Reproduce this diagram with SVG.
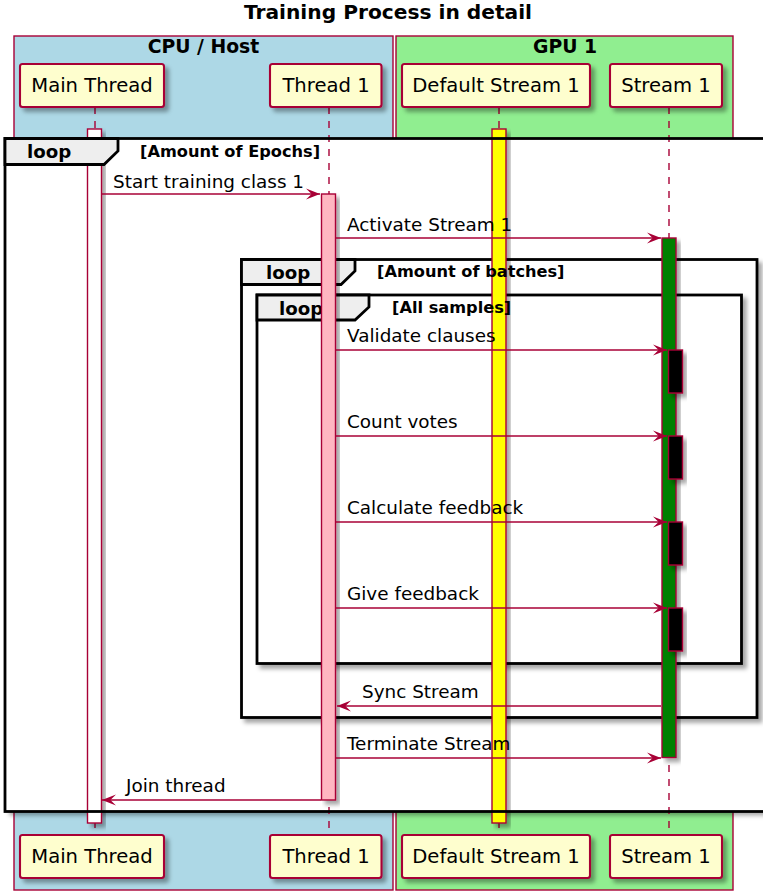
<svg xmlns="http://www.w3.org/2000/svg" width="763" height="892" viewBox="0 0 763 892">
<defs>
<filter id="sh" x="-20%" y="-20%" width="150%" height="150%">
<feGaussianBlur in="SourceAlpha" stdDeviation="2"/>
<feOffset dx="4" dy="4" result="b"/>
<feFlood flood-color="#000" flood-opacity="0.35"/>
<feComposite in2="b" operator="in"/>
<feMerge><feMergeNode/><feMergeNode in="SourceGraphic"/></feMerge>
</filter>
<marker id="ah" markerUnits="userSpaceOnUse" viewBox="-15 -7 16 14" refX="0" refY="0" markerWidth="16" markerHeight="14" orient="auto">
<path d="M0,0 L-14,-5.6 L-8.4,0 L-14,5.6 Z" fill="#A80036"/>
</marker>
<style>
.t{font-family:"DejaVu Sans",sans-serif;fill:#000}
.pt{font-size:19.6px;text-anchor:middle}
.mt{font-size:18.4px}
.bt{font-size:18.8px;font-weight:bold;text-anchor:middle}
.lt{font-size:18.2px;font-weight:bold}
.ct{font-size:16.2px;font-weight:bold}
.part{fill:#FEFECE;stroke:#A80036;stroke-width:2.1}
.life{stroke:#A80036;stroke-width:1.4;stroke-dasharray:7,7}
.act{stroke:#A80036;stroke-width:1.4}
.msg{stroke:#A80036;stroke-width:1.4;fill:none;marker-end:url(#ah)}
.frame{fill:#fff;stroke:#000;stroke-width:2.8}
.tab{fill:#EEEEEE;stroke:#000;stroke-width:2.8}
</style>
</defs>
<rect width="763" height="892" fill="#fff"/>
<text class="t" x="388" y="19" font-size="20.2" font-weight="bold" text-anchor="middle">Training Process in detail</text>

<g id="box-cpu">
<rect x="14" y="36" width="379" height="854" fill="#ADD8E6" stroke="#A80036" stroke-width="1.4"/>
<text class="t bt" x="203.5" y="53">CPU / Host</text>
</g>
<g id="box-gpu">
<rect x="396" y="36" width="337" height="854" fill="#90EE90" stroke="#A80036" stroke-width="1.4"/>
<text class="t bt" x="565" y="53">GPU 1</text>
</g>

<rect x="5" y="138.5" width="770" height="673" fill="#fff" filter="url(#sh)"/>

<g id="loop-batches">
<rect class="frame" x="241.5" y="259.5" width="515.5" height="458" filter="url(#sh)"/>
<path class="tab" d="M241.5,259.5 H355 V271 L341,284.5 H241.5 Z"/>
<text class="t lt" x="266" y="279">loop</text>
</g>
<g id="loop-samples">
<rect class="frame" x="257" y="295" width="484.5" height="368.5" filter="url(#sh)"/>
<path class="tab" d="M257,295 H369 V307 L355,320 H257 Z"/>
<text class="t lt" x="279" y="315">loop</text>
</g>

<g id="lifelines">
<line class="life" x1="95" y1="107" x2="95" y2="835"/>
<line class="life" x1="329" y1="107" x2="329" y2="835"/>
<line class="life" x1="499" y1="107" x2="499" y2="835"/>
<line class="life" x1="669" y1="107" x2="669" y2="835"/>
</g>

<g id="activations">
<rect class="act" x="87.5" y="129" width="14" height="694" fill="#fff" filter="url(#sh)"/>
<rect class="act" x="492" y="129" width="14" height="694" fill="#FFFF00" filter="url(#sh)"/>
<rect class="act" x="321.5" y="194" width="14" height="606" fill="#FFB6C1" filter="url(#sh)"/>
<rect class="act" x="662" y="238" width="14" height="519.5" fill="#008000" filter="url(#sh)"/>
<rect class="act" x="668.5" y="350" width="14" height="43" fill="#000" filter="url(#sh)"/>
<rect class="act" x="668.5" y="436" width="14" height="43" fill="#000" filter="url(#sh)"/>
<rect class="act" x="668.5" y="522" width="14" height="43" fill="#000" filter="url(#sh)"/>
<rect class="act" x="668.5" y="608" width="14" height="43" fill="#000" filter="url(#sh)"/>
</g>

<g id="loop-epochs">
<rect x="5" y="138.5" width="770" height="673" fill="none" stroke="#000" stroke-width="2.8"/>
<path class="tab" d="M5,138.5 H118 V151 L104,164.5 H5 Z"/>
<text class="t lt" x="27" y="158">loop</text>
<text class="t ct" x="140" y="157">[Amount of Epochs]</text>
</g>
<text class="t ct" x="377" y="277">[Amount of batches]</text>
<text class="t ct" x="392" y="313">[All samples]</text>

<g id="connectors">
<line class="msg" x1="102" y1="194" x2="320" y2="194"/>
<line class="msg" x1="336" y1="238" x2="661" y2="238"/>
<line class="msg" x1="336" y1="350" x2="667" y2="350"/>
<line class="msg" x1="336" y1="436" x2="667" y2="436"/>
<line class="msg" x1="336" y1="522" x2="667" y2="522"/>
<line class="msg" x1="336" y1="608" x2="667" y2="608"/>
<line class="msg" x1="661" y1="706" x2="337" y2="706"/>
<line class="msg" x1="336" y1="758" x2="661" y2="758"/>
<line class="msg" x1="321" y1="800" x2="102" y2="800"/>
<text class="t mt" x="113" y="188">Start training class 1</text>
<text class="t mt" x="347" y="231">Activate Stream 1</text>
<text class="t mt" x="347" y="342">Validate clauses</text>
<text class="t mt" x="347" y="428">Count votes</text>
<text class="t mt" x="347" y="514">Calculate feedback</text>
<text class="t mt" x="347" y="600">Give feedback</text>
<text class="t mt" x="362" y="698">Sync Stream</text>
<text class="t mt" x="347" y="750">Terminate Stream</text>
<text class="t mt" x="126" y="792">Join thread</text>
</g>

<g id="p-main-top"><rect class="part" x="20" y="64" width="144" height="43" rx="2.5" filter="url(#sh)"/><text class="t pt" x="92" y="92">Main Thread</text></g>
<g id="p-thread1-top"><rect class="part" x="270" y="64" width="111.5" height="43" rx="2.5" filter="url(#sh)"/><text class="t pt" x="326" y="92">Thread 1</text></g>
<g id="p-default-top"><rect class="part" x="402" y="64" width="188" height="43" rx="2.5" filter="url(#sh)"/><text class="t pt" x="496" y="92">Default Stream 1</text></g>
<g id="p-stream1-top"><rect class="part" x="610" y="64" width="112" height="43" rx="2.5" filter="url(#sh)"/><text class="t pt" x="666" y="92">Stream 1</text></g>

<g id="p-main-bottom"><rect class="part" x="20" y="835" width="144" height="43" rx="2.5" filter="url(#sh)"/><text class="t pt" x="92" y="863">Main Thread</text></g>
<g id="p-thread1-bottom"><rect class="part" x="270" y="835" width="111.5" height="43" rx="2.5" filter="url(#sh)"/><text class="t pt" x="326" y="863">Thread 1</text></g>
<g id="p-default-bottom"><rect class="part" x="402" y="835" width="188" height="43" rx="2.5" filter="url(#sh)"/><text class="t pt" x="496" y="863">Default Stream 1</text></g>
<g id="p-stream1-bottom"><rect class="part" x="610" y="835" width="112" height="43" rx="2.5" filter="url(#sh)"/><text class="t pt" x="666" y="863">Stream 1</text></g>
</svg>
